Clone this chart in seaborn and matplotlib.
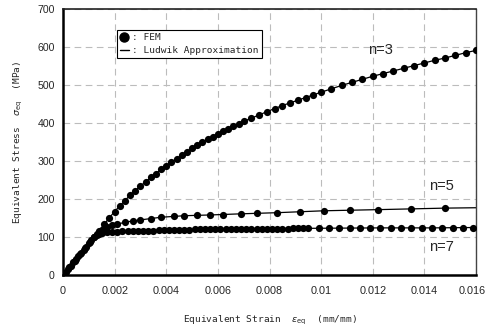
import numpy as np
import pandas as pd
import matplotlib
matplotlib.use('Agg')
import matplotlib.pyplot as plt
import matplotlib.transforms as mtransforms
from matplotlib.lines import Line2D
import seaborn as sns

# Dados (FEM)
strain_n3 = [0, 0.0002, 0.0004, 0.0006, 0.0008, 0.001, 0.0012, 0.0014, 0.0016, 0.0018,
             0.002, 0.0022, 0.0024, 0.0026, 0.0028, 0.003, 0.0032, 0.0034, 0.0036, 0.0038,
             0.004, 0.0042, 0.0044, 0.0046, 0.0048, 0.005, 0.0052, 0.0054, 0.0056, 0.0058,
             0.006, 0.0062, 0.0064, 0.0066, 0.0068, 0.007, 0.0073, 0.0076, 0.0079, 0.0082,
             0.0085, 0.0088, 0.0091, 0.0094, 0.0097, 0.01, 0.0104, 0.0108, 0.0112, 0.0116,
             0.012, 0.0124, 0.0128, 0.0132, 0.0136, 0.014, 0.0144, 0.0148, 0.0152, 0.0156, 0.016]
stress_n3 = [0, 17, 33, 50, 66, 83, 100, 117, 134, 151,
             167, 182, 196, 210, 222, 234, 245, 257, 267, 278,
             288, 297, 306, 315, 324, 333, 341, 349, 357, 364,
             372, 378, 385, 391, 398, 404, 413, 421, 430, 438,
             446, 453, 460, 467, 474, 481, 490, 499, 507, 515,
             523, 530, 537, 544, 551, 558, 565, 571, 578, 585, 591]

strain_n5 = [0.0001, 0.0003, 0.0005, 0.0007, 0.0009, 0.0011, 0.0013, 0.0015, 0.0017,
             0.0019, 0.0021, 0.0024, 0.0027, 0.003, 0.0034, 0.0038, 0.0043, 0.0047,
             0.0052, 0.0057, 0.0062, 0.0069, 0.0075, 0.0083, 0.0092, 0.0101, 0.0111,
             0.0122, 0.0135, 0.0148]
stress_n5 = [8, 25, 42, 58, 75, 91, 107, 119, 126,
             131, 134, 139, 142, 145, 148, 152, 154, 156,
             157, 158, 159, 161, 162, 164, 167, 169, 170,
             172, 175, 176]

strain_n7 = [0.00005, 0.00025, 0.00045, 0.00065, 0.00085, 0.00105, 0.0012, 0.0013, 0.0014,
             0.0015, 0.0017, 0.0019, 0.0021, 0.0023, 0.0025, 0.0027, 0.0029, 0.0031,
             0.0033, 0.0035, 0.0037, 0.0039, 0.0041, 0.0043, 0.0045, 0.0047, 0.0049,
             0.0051, 0.0053, 0.0055, 0.0057, 0.0059, 0.0061, 0.0063, 0.0065, 0.0067,
             0.0069, 0.0071, 0.0073, 0.0075, 0.0077, 0.0079, 0.0081, 0.0083, 0.0085,
             0.0087, 0.0089, 0.0091, 0.0093, 0.0095, 0.0099, 0.0103, 0.0107, 0.0111,
             0.0115, 0.0119, 0.0123, 0.0127, 0.0131, 0.0135, 0.0139, 0.0143, 0.0147,
             0.0151, 0.0155, 0.0159]
stress_n7 = [4, 21, 37, 54, 71, 87, 99, 105, 109,
             111, 112, 113, 114, 115, 115, 116, 116, 117,
             117, 117, 118, 118, 118, 119, 119, 119, 119,
             120, 120, 120, 120, 120, 121, 121, 121, 121,
             121, 121, 122, 122, 122, 122, 122, 122, 122,
             122, 123, 123, 123, 123, 123, 123, 123, 123,
             124, 124, 124, 124, 124, 124, 124, 124, 124,
             124, 125, 125]

# Aproximacao de Ludwik (linhas)
ludwik_strain_n5 = [0, 0.0012, 0.0015, 0.0018, 0.0021, 0.0025, 0.003, 0.0038, 0.0047, 0.0057,
                    0.0069, 0.0083, 0.0101, 0.0122, 0.0148, 0.016]
ludwik_stress_n5 = [0, 100, 117, 128, 134, 140, 145, 152, 156, 158,
                    161, 164, 169, 172, 176, 177]
ludwik_strain_n7 = [0, 0.0012, 0.0014, 0.0017, 0.0021, 0.0029, 0.0041, 0.0057, 0.0077,
                    0.0099, 0.0123, 0.0143, 0.016]
ludwik_stress_n7 = [0, 99, 109, 112, 114, 116, 118, 120, 122, 123, 124, 124, 125]

curve_labels = ['n=3', 'n=5', 'n=7']
label_x = [0.01229, 0.01465, 0.01465]
label_y = [592, 233, 73]

x_ticks = [0, 0.002, 0.004, 0.006, 0.008, 0.01, 0.012, 0.014, 0.016]
x_ticklabels = ['0', '0.002', '0.004', '0.006', '0.008', '0.01', '0.012', '0.014', '0.016']
y_ticks = [0, 100, 200, 300, 400, 500, 600, 700]

sns.set_style('white')
plt.rcParams['mathtext.fontset'] = 'dejavusans'

fig = plt.figure(figsize=(4.87, 3.34), dpi=100)
ax = fig.add_axes([63/487, 59/334, 413/487, 266/334])

narrow = ['Liberation Sans Narrow', 'Liberation Sans', 'DejaVu Sans']
mono = ['DejaVu Sans Mono', 'DejaVu Sans']

# linhas
sns.lineplot(x=strain_n3, y=stress_n3, color='black', linewidth=0.9, ax=ax, sort=False)
sns.lineplot(x=ludwik_strain_n5, y=ludwik_stress_n5, color='black', linewidth=0.9, ax=ax, sort=False)
sns.lineplot(x=ludwik_strain_n7, y=ludwik_stress_n7, color='black', linewidth=0.9, ax=ax, sort=False)

# pontos FEM
for xs, ys in [(strain_n3, stress_n3), (strain_n5, stress_n5), (strain_n7, stress_n7)]:
    sns.scatterplot(x=xs, y=ys, color='black', s=27, edgecolor='black', linewidth=0, ax=ax, zorder=3)

for lab, lx, ly in zip(curve_labels, label_x, label_y):
    ax.text(lx, ly, lab, ha='center', va='center', fontsize=10.5, family=narrow)

ax.set_xlim(0, 0.016)
ax.set_ylim(0, 700)
ax.set_xticks(x_ticks)
ax.set_xticklabels(x_ticklabels, family=narrow, fontsize=7.8)
ax.set_yticks(y_ticks)
ax.set_yticklabels([str(v) for v in y_ticks], family=narrow, fontsize=7.6)
ax.tick_params(axis='both', length=0)
ax.tick_params(axis='x', pad=8)
ax.tick_params(axis='y', pad=6)

# ultimo rotulo encostado na borda, como no original
last = ax.get_xticklabels()[-1]
last.set_transform(last.get_transform() + mtransforms.ScaledTranslation(-3.5/100, 0, fig.dpi_scale_trans))

ax.grid(True, color='#bcbcbc', linestyle=(0, (6, 4)), linewidth=0.8)
for side in ['left', 'bottom']:
    ax.spines[side].set_color('black')
    ax.spines[side].set_linewidth(1.8)
ax.spines['top'].set_color('#222222')
ax.spines['top'].set_linewidth(1.2)
ax.spines['right'].set_color('#444444')
ax.spines['right'].set_linewidth(1.0)

ax.set_xlabel(r'Equivalent Strain  $\varepsilon_{\rm eq}$  (mm/mm)', family=mono, fontsize=6.8)
ax.set_ylabel(r'Equivalent Stress  $\sigma_{\rm eq}$  (MPa)', family=mono, fontsize=6.8)
ax.xaxis.set_label_coords(0.5, -0.145)
ax.yaxis.set_label_coords(-0.092, 0.5)

handles = [Line2D([], [], marker='o', color='black', linestyle='None', markersize=6.5),
           Line2D([], [], color='black', linewidth=1.0)]
leg = ax.legend(handles, [': FEM', ': Ludwik Approximation'], loc='upper left',
                bbox_to_anchor=(0.12, 0.937), handlelength=0.9, handletextpad=0.4,
                borderpad=0.3, labelspacing=0.4, fancybox=False, framealpha=1,
                edgecolor='black', prop={'family': mono, 'size': 6.8})
leg.get_frame().set_linewidth(0.8)

fig.savefig('out.png', dpi=100)
